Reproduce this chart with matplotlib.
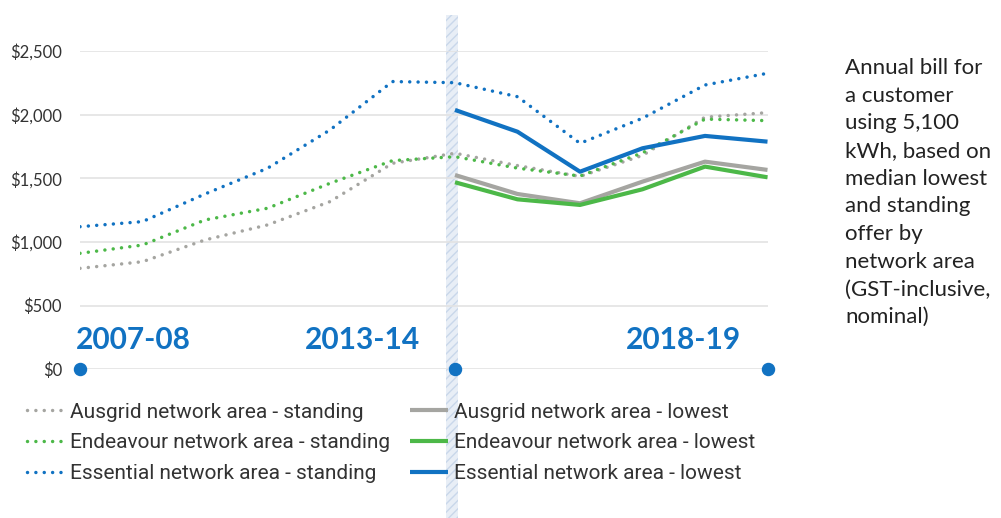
import matplotlib.pyplot as plt
import matplotlib.transforms as mtransforms
from matplotlib.patches import Rectangle

# ------------------------------------------------------------
# Data
# ------------------------------------------------------------
years = ["2007-08", "2008-09", "2009-10", "2010-11", "2011-12", "2012-13",
         "2013-14", "2014-15", "2015-16", "2016-17", "2017-18", "2018-19"]

ausgrid_standing = [793, 845, 1016, 1134, 1317, 1618, 1697, 1600, 1515, 1680, 1980, 2016]
endeavour_standing = [911, 976, 1173, 1265, 1461, 1639, 1670, 1580, 1518, 1700, 1965, 1953]
essential_standing = [1120, 1160, 1377, 1579, 1880, 2260, 2251, 2141, 1775, 1972, 2233, 2325]

lowest_years = years[6:]
ausgrid_lowest = [1526, 1377, 1304, 1474, 1631, 1566]
endeavour_lowest = [1469, 1335, 1291, 1414, 1592, 1508]
essential_lowest = [2037, 1866, 1552, 1736, 1833, 1788]

yticks = [0, 500, 1000, 1500, 2000, 2500]
ytick_labels = ["$0", "$500", "$1,000", "$1,500", "$2,000", "$2,500"]
marked_years = ["2007-08", "2013-14", "2018-19"]

note = ("Annual bill for\na customer\nusing 5,100\nkWh, based on\nmedian lowest\n"
        "and standing\noffer by\nnetwork area\n(GST-inclusive,\nnominal)")

BLUE = "#1172c2"
GREEN = "#4cb848"
GREY = "#a5a5a1"
TEXT = "#333333"

# ------------------------------------------------------------
# Figure
# ------------------------------------------------------------
fig = plt.figure(figsize=(10.01, 5.18), dpi=100)
W, H = 1001, 518
ax = fig.add_axes([80 / W, (H - 369.3) / H, (767.5 - 80) / W, (369.3 - 51) / H])

x_all = list(range(len(years)))
x_low = [years.index(y) for y in lowest_years]

# shaded vertical band at 2013-14
band_x = years.index("2013-14") - 0.05
trans = mtransforms.blended_transform_factory(ax.transData, fig.transFigure)
band = Rectangle((band_x - 0.1, 0), 0.2, (H - 15) / H, transform=trans,
                 facecolor="#e8eef6", edgecolor="#c9d7ea", hatch="////",
                 linewidth=0, zorder=0, clip_on=False)
ax.add_patch(band)

dot_kw = dict(linewidth=2.5, dashes=(0.01, 2.4), dash_capstyle="round", zorder=3)
ax.plot(x_all, ausgrid_standing, color=GREY, label="Ausgrid network area - standing", **dot_kw)
ax.plot(x_all, endeavour_standing, color=GREEN, label="Endeavour network area - standing", **dot_kw)
ax.plot(x_all, essential_standing, color=BLUE, label="Essential network area - standing", **dot_kw)

solid_kw = dict(linewidth=3.0, solid_capstyle="butt", zorder=3)
ax.plot(x_low, ausgrid_lowest, color=GREY, label="Ausgrid network area - lowest", **solid_kw)
ax.plot(x_low, endeavour_lowest, color=GREEN, label="Endeavour network area - lowest", **solid_kw)
ax.plot(x_low, essential_lowest, color=BLUE, label="Essential network area - lowest", **solid_kw)

# dots on the baseline
mx = [years.index(y) for y in marked_years]
ax.scatter(mx, [0] * len(mx), s=75, color=BLUE, zorder=5, clip_on=False)

# year labels
lab_kw = dict(color=BLUE, fontsize=21.5, fontweight="bold", family="Lato", va="baseline")
ax.text(mx[0] - 0.07, 160, marked_years[0], ha="left", **lab_kw)
ax.text(mx[1] - 0.56, 160, marked_years[1], ha="right", **lab_kw)
ax.text(mx[2] - 0.42, 160, marked_years[2], ha="right", **lab_kw)

# axes styling
ax.set_xlim(0, len(years) - 1)
ax.set_ylim(0, 2500)
ax.set_yticks(yticks)
ax.set_yticklabels(ytick_labels, family="Lato", fontsize=12, color=TEXT)
ax.set_xticks([])
ax.tick_params(axis="y", length=0, pad=13)
ax.grid(axis="y", color="#e3e3e3", linewidth=1.2, zorder=1)
ax.set_axisbelow(True)
for s in ax.spines.values():
    s.set_visible(False)
ax.patch.set_alpha(0)

# legend
leg = ax.legend(loc="upper left", bbox_to_anchor=((8 - 80) / 687.5, -0.0456), ncol=2,
                frameon=False, handlelength=1.8, handletextpad=0.3, columnspacing=0.95,
                labelspacing=0.56, prop={"family": "Roboto", "size": 15})
for t in leg.get_texts():
    t.set_color(TEXT)

# note on the right
fig.text(845 / W, 1 - 58 / H, note, family="Lato", fontsize=16, color="#222222",
         ha="left", va="top", linespacing=1.48)

fig.savefig("out.png", dpi=100)
